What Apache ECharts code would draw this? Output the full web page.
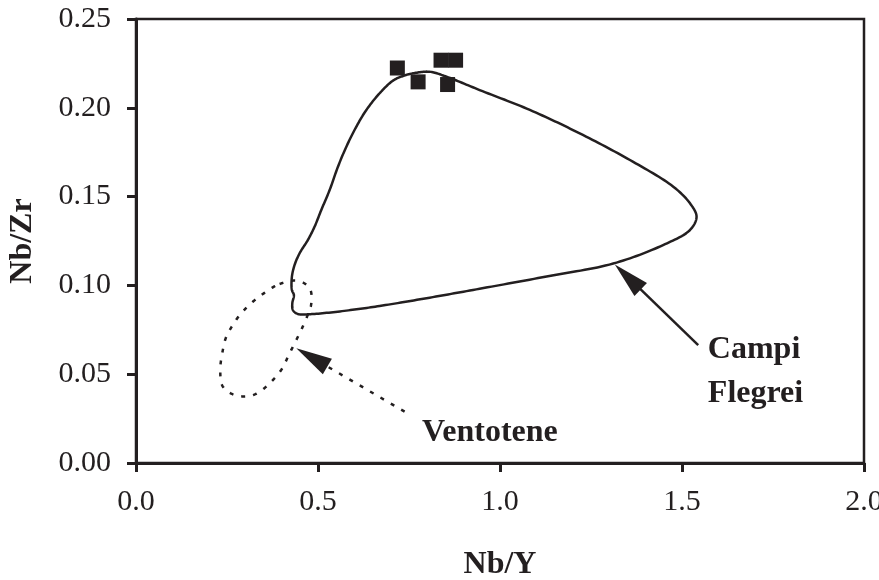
<!DOCTYPE html>
<html>
<head>
<meta charset="utf-8">
<script src="https://cdn.jsdelivr.net/npm/echarts@6/dist/echarts.min.js"></script>
<style>
html,body{margin:0;padding:0;background:#fff;}
#chart{width:879px;height:580px;}
</style>
</head>
<body>
<div id="chart"></div>
<script>
// Data (Nb/Y, Nb/Zr)
var samplePoints = [
  [0.718, 0.2224],
  [0.775, 0.2146],
  [0.838, 0.2268],
  [0.878, 0.2268],
  [0.856, 0.2131]
];
var campiFlegreiEnvelope = [
  [0.8069, 0.2203], [0.761, 0.2194], [0.7335, 0.2179], [0.706, 0.2153],
  [0.6694, 0.2082], [0.6329, 0.1988], [0.6054, 0.1894], [0.5779, 0.1781],
  [0.5548, 0.1668], [0.532, 0.1537], [0.5091, 0.1425], [0.4907, 0.1331],
  [0.4723, 0.1256], [0.4495, 0.1181], [0.4357, 0.1115], [0.4283, 0.1049],
  [0.4283, 0.0974], [0.4338, 0.0946], [0.4294, 0.0899], [0.4311, 0.0861],
  [0.4448, 0.0839], [0.486, 0.0839], [0.5779, 0.0858], [0.6694, 0.0884],
  [0.8069, 0.0931], [0.944, 0.0981], [1.128, 0.1050], [1.311, 0.1123],
  [1.448, 0.1227], [1.522, 0.1312], [1.540, 0.1387], [1.522, 0.1462],
  [1.476, 0.1556], [1.357, 0.1706], [1.219, 0.1856], [1.082, 0.1988],
  [0.944, 0.2100], [0.853, 0.2175]
];
var ventoteneEnvelope = [
  [0.3945, 0.1008], [0.4448, 0.1026], [0.477, 0.0984], [0.4816, 0.0899],
  [0.466, 0.0805], [0.4448, 0.0711], [0.422, 0.0618], [0.399, 0.0524],
  [0.3717, 0.0458], [0.3395, 0.0401], [0.312, 0.0377], [0.2708, 0.0383],
  [0.2386, 0.0430], [0.2315, 0.0524], [0.2386, 0.0636], [0.248, 0.0711],
  [0.266, 0.0777], [0.289, 0.0843], [0.321, 0.0908], [0.358, 0.0965]
];
// arrows: [tailX, tailY, tipX, tipY, dashed]
var arrows = [
  [1.5445, 0.0664, 1.3155, 0.1118, 0],
  [0.738, 0.0289, 0.4404, 0.0646, 1]
];
// labels: [x, y, text] (left-aligned anchor)
var labels = [
  [1.571, 0.0640, 'Campi'],
  [1.571, 0.0390, 'Flegrei'],
  [0.786, 0.0172, 'Ventotene']
];
var xTicks = [0, 0.5, 1.0, 1.5, 2.0];
var yTicks = [0, 0.05, 0.10, 0.15, 0.20, 0.25];

var INK = '#231f20';
var FONT = 'Liberation Serif';

// closed centripetal Catmull-Rom through pixel points
function closedSpline(pts) {
  var n = pts.length, out = [];
  function d(a, b) { return Math.pow(Math.hypot(b[0] - a[0], b[1] - a[1]), 0.5) || 1e-4; }
  for (var i = 0; i < n; i++) {
    var p0 = pts[(i - 1 + n) % n], p1 = pts[i], p2 = pts[(i + 1) % n], p3 = pts[(i + 2) % n];
    var t0 = 0, t1 = t0 + d(p0, p1), t2 = t1 + d(p1, p2), t3 = t2 + d(p2, p3);
    var steps = 16;
    for (var s = 0; s < steps; s++) {
      var t = t1 + (t2 - t1) * s / steps;
      var pt = [0, 0];
      for (var k = 0; k < 2; k++) {
        var a1 = (t1 - t) / (t1 - t0) * p0[k] + (t - t0) / (t1 - t0) * p1[k];
        var a2 = (t2 - t) / (t2 - t1) * p1[k] + (t - t1) / (t2 - t1) * p2[k];
        var a3 = (t3 - t) / (t3 - t2) * p2[k] + (t - t2) / (t3 - t2) * p3[k];
        var b1 = (t2 - t) / (t2 - t0) * a1 + (t - t0) / (t2 - t0) * a2;
        var b2 = (t3 - t) / (t3 - t1) * a2 + (t - t1) / (t3 - t1) * a3;
        pt[k] = (t2 - t) / (t2 - t1) * b1 + (t - t1) / (t2 - t1) * b2;
      }
      out.push(pt);
    }
  }
  out.push(out[0]);
  return out;
}
function envelopeSeries(arr, dash) {
  return {
    type: 'custom', data: arr, z: 3, silent: true,
    encode: {x: 0, y: 1},
    renderItem: function (params, api) {
      if (params.dataIndex !== 0) return null;
      var px = arr.map(function (p) { return api.coord(p); });
      return {
        type: 'polyline', shape: {points: closedSpline(px)},
        style: {stroke: INK, lineWidth: 2.5, fill: null, lineDash: dash, lineJoin: 'round'}
      };
    }
  };
}

var chart = echarts.init(document.getElementById('chart'));
chart.setOption({
  backgroundColor: '#fff',
  animation: false,
  grid: {left: 136, right: 15, top: 19, bottom: 117, containLabel: false, outerBoundsMode: 'none',
    show: true, borderColor: INK, borderWidth: 2.5},
  xAxis: {
    type: 'value', min: xTicks[0], max: xTicks[xTicks.length - 1], interval: 0.5,
    name: 'Nb/Y', nameLocation: 'middle', nameGap: 86,
    nameTextStyle: {fontFamily: FONT, fontWeight: 'bold', fontSize: 32, color: INK},
    axisLine: {show: true, lineStyle: {color: INK, width: 3}},
    axisTick: {show: true, length: 9, lineStyle: {color: INK, width: 3}},
    axisLabel: {margin: 24, fontFamily: FONT, fontSize: 30, color: INK,
      formatter: function (v) { return v.toFixed(1); }},
    splitLine: {show: false}
  },
  yAxis: {
    type: 'value', min: yTicks[0], max: yTicks[yTicks.length - 1], interval: 0.05,
    name: 'Nb/Zr', nameLocation: 'middle', nameGap: 97, nameRotate: 90,
    nameTextStyle: {fontFamily: FONT, fontWeight: 'bold', fontSize: 32, color: INK},
    axisLine: {show: true, lineStyle: {color: INK, width: 3}},
    axisTick: {show: true, length: 9, lineStyle: {color: INK, width: 3}},
    axisLabel: {margin: 25, fontFamily: FONT, fontSize: 30, color: INK,
      formatter: function (v) { return v.toFixed(2); }},
    splitLine: {show: false}
  },
  series: [
    envelopeSeries(campiFlegreiEnvelope, null),
    envelopeSeries(ventoteneEnvelope, [4, 8]),
    {
      type: 'scatter', data: samplePoints, symbol: 'rect', symbolSize: 15,
      itemStyle: {color: INK, opacity: 1}, z: 4
    },
    {
      type: 'custom', data: arrows, z: 5,
      renderItem: function (params, api) {
        var tail = api.coord([api.value(0), api.value(1)]);
        var tip = api.coord([api.value(2), api.value(3)]);
        var dashed = api.value(4) === 1;
        var dx = tip[0] - tail[0], dy = tip[1] - tail[1];
        var len = Math.sqrt(dx * dx + dy * dy);
        var ux = dx / len, uy = dy / len;
        var L = 36, W = 9;
        var bx = tip[0] - ux * L, by = tip[1] - uy * L;
        var px = -uy, py = ux;
        return {
          type: 'group',
          children: [
            {type: 'line', shape: {x1: tail[0], y1: tail[1], x2: bx + ux * 4, y2: by + uy * 4},
             style: {stroke: INK, lineWidth: 2.5, lineDash: dashed ? [4, 8] : null}},
            {type: 'polygon', shape: {points: [[tip[0], tip[1]], [bx + px * W, by + py * W], [bx - px * W, by - py * W]]},
             style: {fill: INK}}
          ]
        };
      }
    },
    {
      type: 'custom', data: labels, z: 5,
      renderItem: function (params, api) {
        var p = api.coord([api.value(0), api.value(1)]);
        return {
          type: 'text', x: p[0], y: p[1],
          style: {text: labels[params.dataIndex][2], fill: INK, font: 'bold 32px "Liberation Serif"',
            textAlign: 'left', textVerticalAlign: 'middle'}
        };
      }
    }
  ]
});
</script>
</body>
</html>
